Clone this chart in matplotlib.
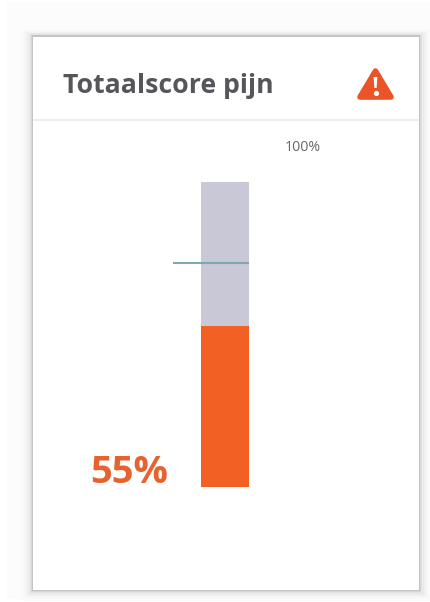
import matplotlib
matplotlib.use("Agg")
import matplotlib.pyplot as plt
from matplotlib.patches import Rectangle, Polygon

title = "Totaalscore pijn"
score_label = "55%"
max_label = "100%"
scale_max = [100]
drawn_score = [52.8]
threshold = [73.4]
categories = ["pijn"]

W, H = 430, 602
plt.rcParams['font.family'] = ['Open Sans', 'DejaVu Sans']
fig = plt.figure(figsize=(W / 100, H / 100), dpi=100, facecolor="white")

bg = fig.add_axes([0, 0, 1, 1])
bg.set_xlim(0, W)
bg.set_ylim(H, 0)
bg.axis("off")

# soft outer halo and card shadow
bg.add_patch(Rectangle((7, 2), 423, 597, fc="#fcfcfc", ec="none"))
for grow, col in [(12, "#fafafa"), (9, "#f6f6f6"), (7, "#f1f1f1"), (5, "#ebebeb"), (3, "#e2e2e2"), (2, "#d6d6d6"), (1, "#c4c4c4")]:
    bg.add_patch(Rectangle((33 - grow, 36 - grow * 0.6), 386 + 2 * grow, 554 + grow * 1.5, fc=col, ec="none"))
bg.add_patch(Rectangle((33, 37), 386, 553, fc="white", ec="none"))
bg.plot([33, 419], [120, 120], color="#e9e9e9", lw=1.2, solid_capstyle="butt")

bg.text(63, 93, title, fontsize=19.2, fontweight="bold", color="#55565a", ha="left", va="baseline")
bg.text(285, 151, max_label, fontsize=10.2, color="#666666", ha="left", va="baseline")
bg.text(90, 483, score_label, fontsize=27.5, fontweight="bold", color="#e8622f", ha="left", va="baseline")

# warning icon
bg.add_patch(Polygon([[375.5, 71], [391, 97], [360, 97]], closed=True, fc="#ea5428", ec="#ea5428", lw=4, joinstyle="round"))
bg.add_patch(Polygon([[373.6, 77], [377.4, 77], [376.6, 88], [374.4, 88]], closed=True, fc="white", ec="none"))
bg.scatter([375.5], [93], s=14, color="white", linewidths=0)

# bar axes: spans the bar's scale from 0 to 100
left, right, top, bottom = 173, 249, 182, 487
ax = fig.add_axes([left / W, 1 - bottom / H, (right - left) / W, (bottom - top) / H])
ax.set_ylim(0, 100)
ax.axis("off")
ax.patch.set_alpha(0)
bar_x = 28
bar_w = 48
ax.bar(categories, scale_max, width=bar_w, align="edge", color="#c8c8d6")
ax.set_xlim(-bar_x, right - left - bar_x)
ax.bar(categories, drawn_score, width=bar_w, align="edge", color="#f26024")
ax.plot([-bar_x, bar_w], [threshold[0], threshold[0]], color="#7fa7b0", lw=1.5, solid_capstyle="butt")

fig.savefig("out.png", dpi=100)
